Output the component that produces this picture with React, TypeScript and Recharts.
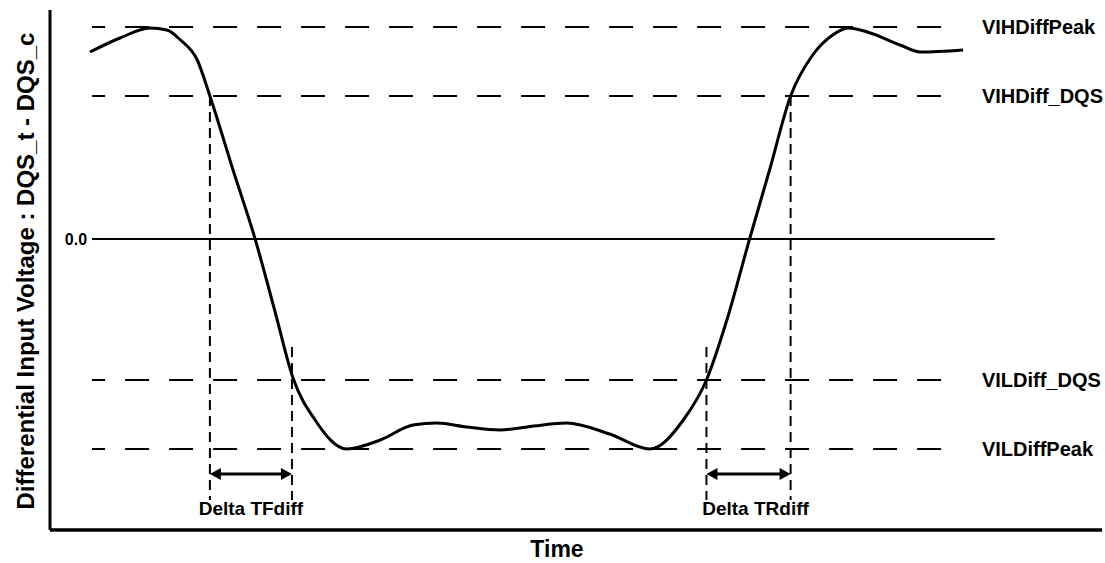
import React from "react";
import {
    ComposedChart,
    Line,
    XAxis,
    YAxis,
    ReferenceLine
} from "recharts";

// waveform DQS_t - DQS_c (time in arbitrary units, voltage normalised)
const times = [
    3.8, 6.65, 9.5, 11.1, 12.4, 14.0, 15.2, 17.4, 19.5, 21.3,
    23.1, 25.2, 28.2, 31.4, 34.5, 36.8, 39.6, 42.8, 46.0, 49.1,
    53.2, 57.0, 60.2, 62.4, 64.4, 66.5, 68.4, 70.4, 72.5, 74.4,
    75.9, 77.7, 80.8, 82.7, 86.8
];
const volts = [
    0.935, 1.005, 1.055, 1.045, 0.995, 0.895, 0.715, 0.345, 0.0, -0.345,
    -0.695, -0.905, -1.05, -1.005, -0.93, -0.92, -0.94, -0.955, -0.935, -0.92,
    -0.975, -1.05, -0.905, -0.705, -0.395, 0.0, 0.345, 0.715, 0.92, 1.02,
    1.055, 1.035, 0.97, 0.935, 0.945
];

const levelNames = ["VIHDiffPeak", "VIHDiff_DQS", "VILDiff_DQS", "VILDiffPeak"];
const levelValues = [1.06, 0.715, -0.705, -1.05];
const levelStart = 4.0;
const levelEnd = 86.3;
const zeroEnd = 89.8;

// vertical markers at the threshold crossings
const markerTimes = [15.2, 23.0, 62.4, 70.4];
const markerTops = [0.715, -0.54, -0.54, 0.715];
const markerBottom = -1.305;

const deltaNames = ["Delta TFdiff", "Delta TRdiff"];
const deltaFrom = [15.2, 62.4];
const deltaTo = [23.0, 70.4];
const deltaLevel = -1.175;

const data = times.map((t, i) => ({ t, v: volts[i] }));

const FONT = "'Liberation Sans', Arial, sans-serif";

function ArrowShape(props: any) {
    const { x1, y1, x2 } = props;
    const L = 11;
    const h = 6;
    return (
        <g>
            <line x1={x1 + 4} y1={y1} x2={x2 - 4} y2={y1} stroke="#000" strokeWidth={3} />
            <polygon points={`${x1},${y1} ${x1 + L},${y1 - h} ${x1 + L},${y1 + h}`} fill="#000" />
            <polygon points={`${x2},${y1} ${x2 - L},${y1 - h} ${x2 - L},${y1 + h}`} fill="#000" />
        </g>
    );
}

const yTitle = (p: any) => {
    const vb = p.viewBox;
    const cx = vb.x + vb.width / 2;
    const cy = vb.y + vb.height / 2 + 1;
    return (
        <text
            x={cx}
            y={cy}
            transform={`rotate(-90, ${cx}, ${cy})`}
            textAnchor="middle"
            dominantBaseline="central"
            fontFamily={FONT}
            fontWeight="bold"
            fontSize={24}
            fill="#000"
        >
            Differential Input Voltage : DQS_t - DQS_c
        </text>
    );
};

const xTitle = (p: any) => {
    const vb = p.viewBox;
    return (
        <text
            x={vb.x + vb.width / 2 - 19}
            y={vb.y + 19}
            textAnchor="middle"
            dominantBaseline="central"
            fontFamily={FONT}
            fontWeight="bold"
            fontSize={23}
            fill="#000"
        >
            Time
        </text>
    );
};

export default function App() {
    return (
        <div style={{ position: "absolute", left: 0, top: 0, background: "#fff" }}>
            <ComposedChart
                width={1105}
                height={563}
                data={data}
                margin={{ top: 10, right: 3, bottom: 0, left: 0 }}
            >
                <XAxis
                    dataKey="t"
                    type="number"
                    domain={[0, 100]}
                    height={33}
                    tick={false}
                    tickLine={false}
                    axisLine={{ stroke: "#000", strokeWidth: 3.5 }}
                    label={xTitle}
                />
                <YAxis
                    type="number"
                    domain={[-1.455, 1.145]}
                    width={50}
                    tick={false}
                    tickLine={false}
                    axisLine={{ stroke: "#000", strokeWidth: 3 }}
                    label={yTitle}
                />

                {levelNames.map((name, i) => (
                    <ReferenceLine
                        key={name}
                        segment={[
                            { x: levelStart, y: levelValues[i] },
                            { x: levelEnd, y: levelValues[i] }
                        ]}
                        stroke="#000"
                        strokeWidth={2}
                        strokeDasharray="24 20"
                        strokeDashoffset={11}
                        label={{
                            value: name,
                            position: "right",
                            offset: 24,
                            fill: "#000",
                            fontSize: 20,
                            fontWeight: "bold",
                            fontFamily: FONT
                        }}
                    />
                ))}

                <ReferenceLine
                    segment={[
                        { x: levelStart, y: 0 },
                        { x: zeroEnd, y: 0 }
                    ]}
                    stroke="#000"
                    strokeWidth={2}
                    label={{
                        value: "0.0",
                        position: "left",
                        offset: 5,
                        fill: "#000",
                        fontSize: 16,
                        fontWeight: "bold",
                        fontFamily: FONT
                    }}
                />

                {markerTimes.map((t, i) => (
                    <ReferenceLine
                        key={"m" + i}
                        segment={[
                            { x: t, y: markerTops[i] },
                            { x: t, y: markerBottom }
                        ]}
                        stroke="#000"
                        strokeWidth={2}
                        strokeDasharray="10 6"
                    />
                ))}

                {deltaNames.map((name, i) => (
                    <ReferenceLine
                        key={name}
                        segment={[
                            { x: deltaFrom[i], y: deltaLevel },
                            { x: deltaTo[i], y: deltaLevel }
                        ]}
                        shape={ArrowShape}
                        label={{
                            value: name,
                            position: "bottom",
                            offset: 28,
                            dx: i === 1 ? 7 : 0,
                            fill: "#000",
                            fontSize: 19,
                            fontWeight: "bold",
                            fontFamily: FONT
                        }}
                    />
                ))}

                <Line
                    dataKey="v"
                    type="monotone"
                    stroke="#000"
                    strokeWidth={3}
                    dot={false}
                    activeDot={false}
                    isAnimationActive={false}
                />
            </ComposedChart>
        </div>
    );
}
